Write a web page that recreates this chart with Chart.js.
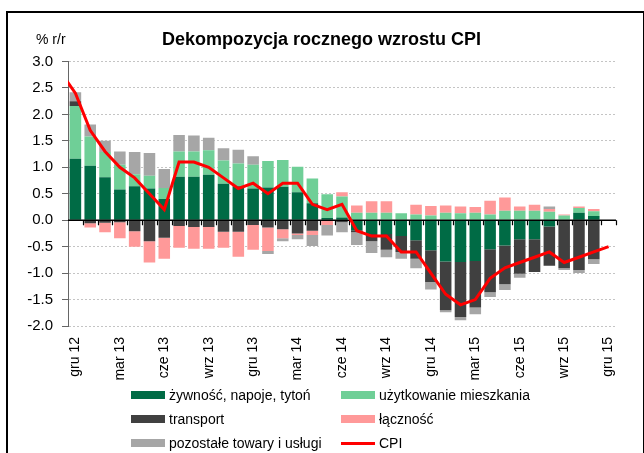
<!DOCTYPE html>
<html lang="pl">
<head>
<meta charset="utf-8">
<title>Dekompozycja rocznego wzrostu CPI</title>
<script src="https://cdn.jsdelivr.net/npm/chart.js@4.4.1/dist/chart.umd.min.js"></script>
<style>
    html, body { margin: 0; padding: 0; background: #fff; }
    body { width: 644px; height: 453px; position: relative; overflow: hidden;
           font-family: 'Liberation Sans', Arial, sans-serif; color: #000; }
    #frame { position: absolute; left: 6px; top: 11px; width: 638px; height: 460px;
             border-left: 2px solid #000; border-top: 2px solid #000; border-right: 1px solid #000;
             box-sizing: border-box; }
    #chart { position: absolute; left: 0; top: 0; }
    #unit { position: absolute; left: 36px; top: 31px; font-size: 14px; line-height: 16px; }
    #title { position: absolute; left: 0; top: 29px; width: 643px; text-align: center;
             font-size: 18px; line-height: 20px; font-weight: bold; }
    #legend { position: absolute; left: 131px; top: 383px; display: grid;
              grid-template-columns: 210px auto; grid-auto-rows: 24px; font-size: 14px; }
    #legend .item { display: flex; align-items: center; white-space: nowrap; }
    #legend .swatch { width: 34px; height: 8px; margin-right: 4px; flex: none; }
    #legend .swatch.line { height: 3px; }
</style>
</head>
<body>
<div id="frame"></div>
<canvas id="chart" width="644" height="453"></canvas>
<div id="unit">% r/r</div>
<div id="title">Dekompozycja rocznego wzrostu CPI</div>
<div id="legend"></div>

<script>
'use strict';

// ---- data (lis 12 only feeds the CPI line entering from the left edge) ----
const categories = ['lis 12', 'gru 12',
    'sty 13', 'lut 13', 'mar 13', 'kwi 13', 'maj 13', 'cze 13', 'lip 13', 'sie 13', 'wrz 13', 'paź 13', 'lis 13', 'gru 13',
    'sty 14', 'lut 14', 'mar 14', 'kwi 14', 'maj 14', 'cze 14', 'lip 14', 'sie 14', 'wrz 14', 'paź 14', 'lis 14', 'gru 14',
    'sty 15', 'lut 15', 'mar 15', 'kwi 15', 'maj 15', 'cze 15', 'lip 15', 'sie 15', 'wrz 15', 'paź 15', 'lis 15', 'gru 15'];

const tickLabels = ['gru 12', 'mar 13', 'cze 13', 'wrz 13', 'gru 13', 'mar 14', 'cze 14',
    'wrz 14', 'gru 14', 'mar 15', 'cze 15', 'wrz 15', 'gru 15'];

const food = [null, 1.16, 1.03, 0.81, 0.58, 0.64, 0.60, 0.40, 0.82, 0.82, 0.86, 0.69, 0.64, 0.60,
    0.62, 0.63, 0.53, 0.32, 0.04, 0.05, -0.19, -0.26, -0.26, -0.30, -0.38, -0.57,
    -0.78, -0.79, -0.77, -0.55, -0.48, -0.36, -0.36, -0.12, 0.00, 0.14, 0.08, null];

const housing = [null, 1.00, 0.55, 0.48, 0.47, 0.23, 0.24, 0.21, 0.48, 0.48, 0.46, 0.44, 0.43, 0.45,
    0.50, 0.51, 0.48, 0.47, 0.45, 0.40, 0.14, 0.14, 0.14, 0.13, 0.11, 0.09,
    0.14, 0.13, 0.14, 0.11, 0.18, 0.18, 0.18, 0.16, 0.09, 0.09, 0.09, null];

const transport = [null, 0.09, -0.06, -0.05, -0.04, -0.21, -0.40, -0.33, -0.11, -0.13, -0.13, -0.22, -0.22, -0.09,
    -0.14, -0.17, -0.25, -0.20, -0.01, -0.04, -0.04, -0.14, -0.30, -0.30, -0.35, -0.60,
    -0.92, -1.04, -0.88, -0.81, -0.73, -0.65, -0.62, -0.74, -0.91, -0.94, -0.74, null];

const communication = [null, 0.00, -0.08, -0.18, -0.30, -0.29, -0.40, -0.40, -0.41, -0.41, -0.41, -0.30, -0.47, -0.47,
    -0.44, -0.17, -0.03, -0.08, -0.08, 0.08, 0.14, 0.22, 0.22, 0.00, 0.18, 0.18,
    0.14, 0.13, 0.11, 0.26, 0.25, 0.08, 0.11, 0.05, 0.02, 0.03, 0.04, null];

const otherGoods = [null, 0.17, 0.23, 0.21, 0.25, 0.42, 0.43, 0.36, 0.31, 0.30, 0.24, 0.23, 0.26, 0.16,
    -0.06, -0.06, -0.08, -0.21, -0.20, -0.19, -0.24, -0.22, -0.14, -0.13, -0.18, -0.14,
    -0.04, -0.06, -0.13, -0.09, -0.11, -0.08, 0.00, 0.05, -0.03, -0.06, -0.09, null];

const cpi = [2.8, 2.4, 1.7, 1.3, 1.0, 0.8, 0.5, 0.2, 1.1, 1.1, 1.0, 0.8, 0.6, 0.7,
    0.5, 0.7, 0.7, 0.3, 0.2, 0.3, -0.2, -0.3, -0.3, -0.6, -0.6, -1.0,
    -1.4, -1.6, -1.5, -1.1, -0.9, -0.8, -0.7, -0.6, -0.8, -0.7, -0.6, -0.5];

const FONT = "'Liberation Sans', Arial, sans-serif";

// Zero line + small tick marks between months, drawn under the CPI line
const zeroAxisPlugin = {
    id: 'zeroAxis',
    beforeDatasetDraw(chart, args) {
        if (args.meta.type !== 'line') return;
        const { ctx, chartArea, scales: { x, y } } = chart;
        const y0 = Math.round(y.getPixelForValue(0)) + 0.25;
        const half = (x.getPixelForValue(x.min + 1) - x.getPixelForValue(x.min)) / 2;
        ctx.save();
        ctx.strokeStyle = '#000';
        ctx.lineWidth = 1.5;
        ctx.beginPath();
        ctx.moveTo(chartArea.left, y0);
        ctx.lineTo(chartArea.right, y0);
        ctx.stroke();
        ctx.lineWidth = 1.2;
        ctx.beginPath();
        for (let i = x.min; i <= x.max; i++) {
            const px = Math.round(x.getPixelForValue(i) + half) + 0.5;
            ctx.moveTo(px, y0);
            ctx.lineTo(px, y0 + 5);
        }
        ctx.stroke();
        ctx.restore();
    }
};

function barSet(label, data, color) {
    return { type: 'bar', label, data, backgroundColor: color, borderWidth: 0, order: 1,
             categoryPercentage: 1, barPercentage: 0.78 };
}

function buildLegend(chart) {
    const box = document.getElementById('legend');
    box.innerHTML = '';
    chart.data.datasets.forEach(function (ds) {
        const item = document.createElement('div');
        item.className = 'item';
        const sw = document.createElement('span');
        sw.className = ds.type === 'line' ? 'swatch line' : 'swatch';
        sw.style.background = ds.type === 'line' ? ds.borderColor : ds.backgroundColor;
        const txt = document.createElement('span');
        txt.textContent = ds.label;
        item.appendChild(sw);
        item.appendChild(txt);
        box.appendChild(item);
    });
}

const chart = new Chart(document.getElementById('chart').getContext('2d'), {
    data: {
        labels: categories,
        datasets: [
            barSet('żywność, napoje, tytoń', food, '#006B45'),
            barSet('użytkowanie mieszkania', housing, '#6FCF97'),
            barSet('transport', transport, '#404040'),
            barSet('łączność', communication, '#FF9999'),
            barSet('pozostałe towary i usługi', otherGoods, '#A6A6A6'),
            {
                type: 'line', label: 'CPI', data: cpi, order: 0,
                borderColor: '#FF0000', backgroundColor: '#FF0000', borderWidth: 3,
                pointRadius: 0, tension: 0, clip: 0
            }
        ]
    },
    options: {
        responsive: false,
        animation: false,
        devicePixelRatio: 1,
        layout: { padding: { left: 8, right: 28, top: 61.5, bottom: 67 } },
        plugins: { legend: { display: false }, tooltip: { enabled: false } },
        scales: {
            x: {
                stacked: true,
                min: 'gru 12',
                afterFit(scale) { scale.height = 60; },
                border: { display: false },
                grid: { display: false, drawTicks: false },
                ticks: {
                    autoSkip: false, minRotation: 90, maxRotation: 90, padding: 11,
                    color: '#000', font: { family: FONT, size: 14 },
                    callback(v) { return tickLabels.includes(categories[v]) ? categories[v] : ''; }
                }
            },
            y: {
                stacked: true,
                min: -2, max: 3,
                afterFit(scale) { scale.width = 60; },
                border: { display: true, color: '#666', width: 1, dash: [2, 2] },
                grid: { color: '#c4c4c4', tickColor: '#666', tickLength: 6, tickBorderDash: [] },
                ticks: {
                    stepSize: 0.5, padding: 9, color: '#000', font: { family: FONT, size: 15 },
                    callback(v) { return v.toFixed(1); }
                }
            }
        }
    },
    plugins: [zeroAxisPlugin]
});

buildLegend(chart);
</script>
</body>
</html>
